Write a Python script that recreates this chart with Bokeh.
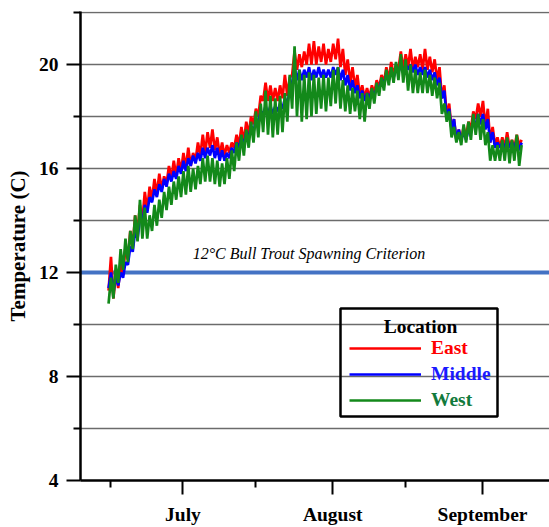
from bokeh.plotting import figure
from bokeh.models import FixedTicker, Span, Label, Legend, LegendItem, BoxAnnotation, Range1d
from bokeh.embed import file_html
from bokeh.resources import INLINE

# x = days after May 31 (June 16 = 15, July 1 = 30, Aug 1 = 61, Sep 1 = 92)
start_day = 14.6

east_hi = [12.6, 12.0, 12.4, 13.0, 13.6, 14.2, 14.6, 15.1, 15.3, 15.6,
           15.8, 15.7, 16.1, 16.3, 16.4, 16.6, 16.8, 16.6, 17.0, 17.3,
           17.4, 17.5, 17.2, 17.0, 16.9, 17.0, 17.3, 17.6, 17.8, 18.0,
           18.3, 18.8, 19.3, 19.2, 19.1, 19.2, 19.6, 19.5, 20.5, 20.4,
           20.5, 20.8, 20.9, 20.7, 20.8, 20.6, 20.8, 21.0, 20.6, 20.2,
           19.9, 19.6, 19.2, 19.1, 19.2, 19.4, 19.6, 19.9, 20.1, 20.0,
           20.5, 20.4, 20.6, 20.3, 20.4, 20.6, 20.3, 20.2, 19.9, 19.2,
           18.5, 17.9, 17.5, 17.6, 17.8, 18.2, 18.5, 18.6, 18.3, 17.6,
           17.2, 17.2, 17.4, 17.1, 17.3, 17.1]
east_lo = [11.3, 11.0, 11.4, 11.9, 12.5, 13.0, 13.5, 14.0, 14.4, 14.8,
           15.0, 15.2, 15.4, 15.6, 15.7, 15.9, 16.0, 16.1, 16.3, 16.5,
           16.6, 16.8, 16.7, 16.5, 16.5, 16.6, 16.8, 16.9, 17.0, 17.3,
           17.7, 18.0, 18.6, 18.6, 18.6, 18.6, 18.7, 18.8, 19.6, 19.8,
           19.9, 20.0, 20.0, 20.0, 20.1, 20.0, 20.1, 20.2, 19.9, 19.6,
           19.3, 19.1, 18.8, 18.7, 18.7, 18.9, 19.1, 19.3, 19.4, 19.6,
           19.8, 19.8, 19.9, 19.8, 19.9, 19.8, 19.8, 19.7, 19.4, 18.7,
           18.0, 17.5, 17.1, 17.1, 17.2, 17.5, 17.9, 18.0, 17.6, 17.0,
           16.9, 16.8, 16.8, 16.8, 16.8, 16.9]

middle_hi = [12.0, 11.9, 12.0, 12.4, 13.0, 13.6, 14.1, 14.6, 14.9, 15.2,
             15.4, 15.6, 15.8, 15.9, 16.1, 16.3, 16.4, 16.5, 16.6, 16.8,
             16.8, 16.9, 16.8, 16.7, 16.6, 16.8, 17.0, 17.2, 17.4, 17.6,
             17.9, 18.2, 18.4, 18.4, 18.4, 18.5, 18.7, 19.0, 19.9, 19.8,
             19.8, 19.9, 19.8, 19.9, 19.8, 19.8, 19.9, 19.9, 19.8, 19.6,
             19.4, 19.2, 19.0, 18.9, 19.0, 19.1, 19.4, 19.6, 19.7, 19.8,
             20.0, 20.0, 20.0, 20.0, 19.9, 19.9, 19.8, 19.7, 19.5, 19.0,
             18.3, 17.9, 17.5, 17.4, 17.5, 17.8, 18.1, 18.1, 17.9, 17.4,
             17.0, 17.0, 17.1, 17.0, 17.1, 17.0]
middle_lo = [11.4, 11.2, 11.5, 11.8, 12.3, 12.8, 13.3, 13.9, 14.3, 14.7,
             14.9, 15.1, 15.3, 15.5, 15.6, 15.8, 15.9, 16.1, 16.2, 16.3,
             16.4, 16.5, 16.4, 16.3, 16.3, 16.4, 16.6, 16.8, 16.9, 17.2,
             17.4, 17.8, 18.1, 18.1, 18.1, 18.2, 18.3, 18.5, 19.3, 19.4,
             19.4, 19.5, 19.4, 19.5, 19.5, 19.5, 19.5, 19.6, 19.4, 19.2,
             19.0, 18.9, 18.7, 18.6, 18.7, 18.8, 19.1, 19.3, 19.4, 19.5,
             19.7, 19.7, 19.8, 19.7, 19.6, 19.6, 19.5, 19.4, 19.2, 18.7,
             17.9, 17.5, 17.1, 17.1, 17.1, 17.4, 17.7, 17.7, 17.5, 17.0,
             16.8, 16.8, 16.8, 16.8, 16.8, 16.7]

west_hi = [11.8, 12.3, 12.9, 13.3, 13.6, 14.2, 14.8, 14.5, 14.2, 14.6,
           14.8, 15.1, 15.3, 15.5, 15.7, 15.9, 16.1, 16.0, 16.1, 16.4,
           16.5, 16.4, 16.3, 16.2, 16.4, 16.7, 17.0, 17.3, 17.5, 17.8,
           18.2, 18.5, 19.0, 18.8, 18.7, 18.8, 18.9, 19.6, 20.7, 19.8,
           19.6, 19.7, 19.6, 19.5, 19.6, 19.5, 19.8, 19.9, 19.4, 19.2,
           19.1, 19.0, 18.9, 18.9, 19.1, 19.3, 19.5, 19.8, 19.9, 20.1,
           20.4, 20.2, 20.0, 19.8, 19.7, 19.8, 19.6, 19.5, 19.3, 18.5,
           18.2, 17.6, 17.4, 17.7, 17.8, 18.1, 18.1, 17.9, 17.4, 16.9,
           16.9, 17.1, 17.2, 17.1, 17.3, 16.9]
west_lo = [10.8, 11.0, 11.6, 12.1, 12.4, 12.9, 13.2, 13.3, 13.3, 13.6,
           13.8, 14.1, 14.4, 14.6, 14.8, 14.9, 15.0, 15.1, 15.2, 15.4,
           15.5, 15.5, 15.4, 15.3, 15.4, 15.6, 15.9, 16.3, 16.5, 16.8,
           17.0, 17.2, 17.4, 17.3, 17.2, 17.3, 17.4, 17.8, 18.3, 18.0,
           17.8, 17.9, 18.0, 18.1, 18.3, 18.2, 18.4, 18.5, 18.3, 18.2,
           18.1, 18.2, 17.9, 17.8, 18.3, 18.5, 18.8, 19.0, 19.2, 19.3,
           19.4, 19.3, 19.0, 18.9, 18.9, 18.9, 18.9, 18.8, 18.7, 18.1,
           17.8, 17.2, 17.0, 16.9, 17.0, 17.1, 17.3, 17.1, 16.9, 16.3,
           16.3, 16.3, 16.3, 16.2, 16.3, 16.1]

month_ticks = [30, 61, 92]
month_labels = ["July", "August", "September"]
half_month_ticks = [15, 45, 76]
temp_ticks = [4, 8, 12, 16, 20]
temp_minor_ticks = [6, 10, 14, 18, 22]
criterion = 12
criterion_text = "12\u00b0C Bull Trout Spawning Criterion"
series_names = ["East", "Middle", "West"]
line_colors = ["#ff0000", "#0000ff", "#13891a"]
label_colors = ["#ff0000", "#1a1aff", "#127a3c"]

FONT = "Liberation Serif"


def zigzag(lo, hi):
    xs, ys = [], []
    for i, (a, b) in enumerate(zip(lo, hi)):
        d = start_day + i
        xs += [d, d + 0.5]
        ys += [a, b]
    return xs, ys


p = figure(width=549, height=527, output_backend="svg", toolbar_location=None,
           x_range=Range1d(8.79, 105.87), y_range=Range1d(4, 22.04),
           min_border_left=80, min_border_right=0, min_border_top=11, min_border_bottom=47)
p.outline_line_color = None
p.background_fill_color = "white"
p.border_fill_color = "white"

# axes
xt = FixedTicker(ticks=month_ticks, minor_ticks=half_month_ticks)
yt = FixedTicker(ticks=temp_ticks, minor_ticks=temp_minor_ticks)
p.xaxis.ticker = xt
p.yaxis.ticker = yt
p.xaxis.major_label_overrides = {t: l for t, l in zip(month_ticks, month_labels)}
for ax in (p.xaxis, p.yaxis):
    ax.axis_line_width = 2.5
    ax.axis_line_color = "black"
    ax.major_tick_out = 14
    ax.major_tick_in = 0
    ax.minor_tick_out = 7
    ax.minor_tick_in = 0
    ax.major_tick_line_width = 2
    ax.minor_tick_line_width = 2
    ax.major_tick_line_color = "black"
    ax.minor_tick_line_color = "black"
    ax.major_label_text_font = FONT
    ax.major_label_text_font_style = "bold"
    ax.major_label_text_font_size = "19.5px"
    ax.major_label_text_color = "black"
p.xaxis.major_label_standoff = 9
p.yaxis.major_label_standoff = 8
p.yaxis.axis_label = "Temperature (C)"
p.yaxis.axis_label_text_font = FONT
p.yaxis.axis_label_text_font_style = "bold"
p.yaxis.axis_label_text_font_size = "21px"
p.yaxis.axis_label_text_color = "black"
p.yaxis.axis_label_standoff = 6

p.xgrid.visible = False
p.ygrid.ticker = yt
p.ygrid.grid_line_color = "#6b6b6b"
p.ygrid.grid_line_width = 1.3
p.ygrid.minor_grid_line_color = "#6b6b6b"
p.ygrid.minor_grid_line_width = 1.3

span = Span(location=criterion, dimension="width", line_color="#4472c4", line_width=4, level="underlay")
p.add_layout(span)

renderers = []
for lo, hi, col in [(east_lo, east_hi, line_colors[0]),
                    (middle_lo, middle_hi, line_colors[1]),
                    (west_lo, west_hi, line_colors[2])]:
    xs, ys = zigzag(lo, hi)
    renderers.append(p.line(xs, ys, line_color=col, line_width=2.7))

p.add_layout(Label(x=32, y=12.73, text=criterion_text, text_font=FONT,
                   text_font_style="italic", text_font_size="16px",
                   text_baseline="middle", text_color="black"))

# legend
box = BoxAnnotation(left=260, right=417, bottom=64, top=172,
                    left_units="screen", right_units="screen",
                    bottom_units="screen", top_units="screen",
                    fill_alpha=0, line_color="black", line_alpha=1, line_width=2.5)
p.add_layout(box)
p.add_layout(Label(x=340, y=154, x_units="screen", y_units="screen", text="Location",
                   text_font=FONT, text_font_style="bold", text_font_size="19.5px",
                   text_align="center", text_baseline="middle", text_color="black"))
for name, r, col, yc in zip(series_names, renderers, label_colors, [131, 105, 79]):
    leg = Legend(items=[LegendItem(label=name, renderers=[r])], location=(269, yc - 10),
                 border_line_color=None, background_fill_alpha=0, padding=0, margin=0,
                 glyph_width=72, glyph_height=20, label_height=20, label_standoff=10,
                 label_text_font=FONT, label_text_font_style="bold",
                 label_text_font_size="19.5px", label_text_color=col)
    p.add_layout(leg)

open("out.html", "w").write(file_html(p, INLINE))
